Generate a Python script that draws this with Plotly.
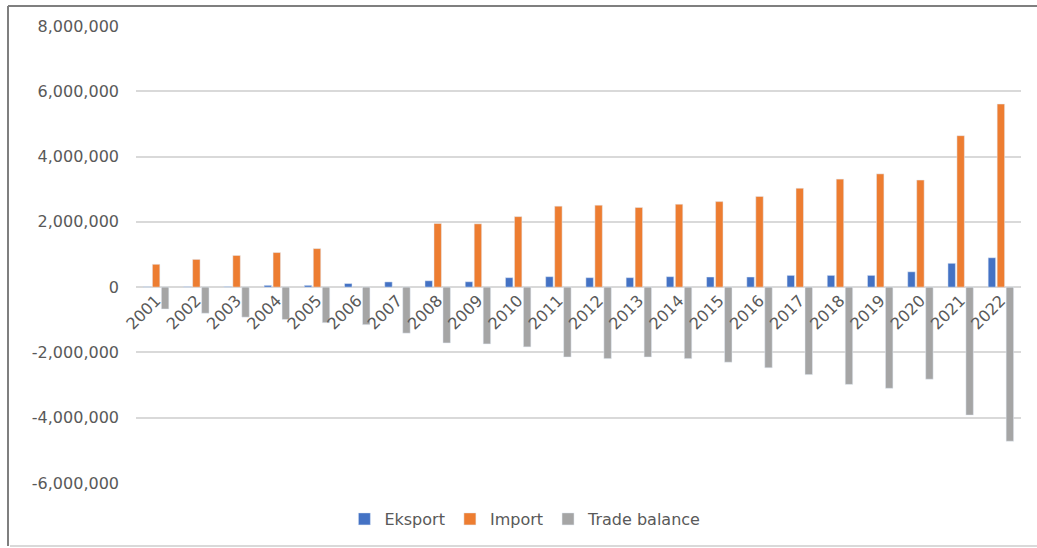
import plotly.graph_objects as go

years = [str(y) for y in range(2001, 2023)]
eksport = [10000, 12000, 15000, 55000, 55000, 110000, 160000, 195000, 165000, 290000,
           320000, 290000, 290000, 320000, 310000, 310000, 360000, 360000, 360000, 470000,
           730000, 900000]
imports = [700000, 850000, 970000, 1060000, 1180000, None, None, 1950000, 1940000, 2160000,
           2480000, 2510000, 2440000, 2540000, 2620000, 2780000, 3030000, 3310000, 3470000, 3280000,
           4640000, 5610000]
trade_balance = [-670000, -800000, -920000, -990000, -1090000, -1150000, -1410000, -1710000, -1740000, -1830000,
                 -2140000, -2190000, -2140000, -2190000, -2300000, -2470000, -2680000, -2980000, -3100000, -2820000,
                 -3920000, -4720000]
y_tickvals = [-6000000, -4000000, -2000000, 0, 2000000, 4000000, 6000000, 8000000]
y_ticktext = ["-6,000,000", "-4,000,000", "-2,000,000", "0", "2,000,000", "4,000,000", "6,000,000", "8,000,000"]

FONT = "DejaVu Sans"
GREY_TXT = "#595959"

fig = go.Figure()
fig.add_trace(go.Bar(name="Eksport", x=years, y=eksport, marker_color="#4472C4"))
fig.add_trace(go.Bar(name="Import", x=years, y=imports, marker_color="#ED7D31"))
fig.add_trace(go.Bar(name="Trade balance", x=years, y=trade_balance, marker_color="#A5A5A5"))

# plot area in pixels: x 136..1021, y 26..483
L, R, T, B = 136, 1021, 26, 483
W, H = R - L, B - T

def px(x):
    return (x - L) / W

def py(y):
    return (B - y) / H

ymin, ymax = -6000000, 8000000

fig.update_layout(
    width=1037, height=548,
    margin=dict(l=L, r=1037 - R, t=T, b=548 - B, pad=0),
    paper_bgcolor="white", plot_bgcolor="white",
    barmode="group", bargap=0.33, bargroupgap=0.17,
    font=dict(family=FONT, size=16, color=GREY_TXT),
    showlegend=True,
    legend=dict(orientation="h", x=0.44, xanchor="center", y=py(519), yanchor="middle",
                font=dict(family=FONT, size=16, color=GREY_TXT), traceorder="normal",
                itemwidth=30),
    xaxis=dict(type="category", anchor="free", position=(0 - ymin) / (ymax - ymin),
               tickangle=-45, showgrid=False, showline=False, ticks="",
               tickfont=dict(family=FONT, size=16, color=GREY_TXT)),
    yaxis=dict(range=[ymin, ymax], tickvals=y_tickvals, ticktext=y_ticktext,
               showgrid=True, gridcolor="#d9d9d9", gridwidth=1.5,
               zeroline=True, zerolinecolor="#d9d9d9", zerolinewidth=1.5,
               showline=False, ticks="", ticklabelstandoff=16,
               tickfont=dict(family=FONT, size=16, color=GREY_TXT)),
    shapes=[
        dict(type="line", xref="paper", yref="paper", x0=px(8), x1=px(1040), y0=py(6), y1=py(6),
             line=dict(color="#7f7f7f", width=2)),
        dict(type="line", xref="paper", yref="paper", x0=px(8), x1=px(8), y0=py(6), y1=py(546),
             line=dict(color="#7f7f7f", width=2)),
        dict(type="line", xref="paper", yref="paper", x0=px(10), x1=px(1040), y0=py(546), y1=py(546),
             line=dict(color="#d9d9d9", width=2)),
    ],
)

fig.write_html("out.html")
